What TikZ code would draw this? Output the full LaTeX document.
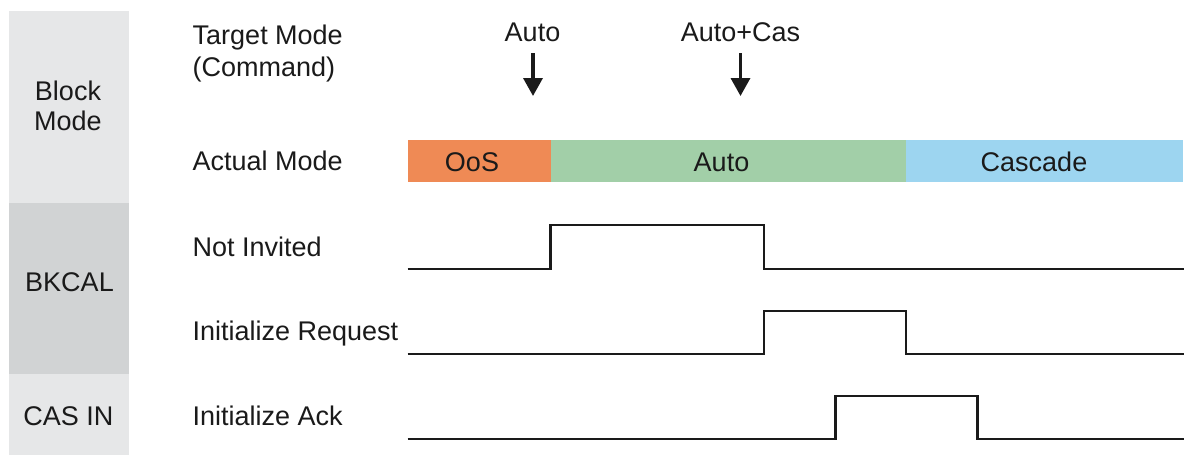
\documentclass[tikz,border=0pt]{standalone}
\usepackage{fontspec}
\setmainfont{Liberation Sans}
\usetikzlibrary{arrows.meta}
\definecolor{panellight}{HTML}{E6E7E8}
\definecolor{paneldark}{HTML}{D1D3D4}
\definecolor{oosfill}{HTML}{EF8A55}
\definecolor{autofill}{HTML}{A2CFA8}
\definecolor{casfill}{HTML}{9DD5F0}
\definecolor{ink}{HTML}{1A1A1A}
\begin{document}
\begin{tikzpicture}[x=1pt,y=-1pt,
    txt/.style={anchor=base,inner sep=0pt,text=ink,font=\fontsize{27}{30}\selectfont},
    lbl/.style={txt,anchor=base west},
    pnl/.style={txt,align=center},
    wave/.style={line width=2.6pt,ink,line join=miter},
    cmd/.style={line width=3.5pt,ink,-{Triangle[length=18pt,width=19pt]}}]
    \useasboundingbox (0,0) rectangle (1184,455);
    % left side panels
    \fill[panellight] (9,11) rectangle (129,203);
    \fill[paneldark] (9,203) rectangle (129,374);
    \fill[panellight] (9,374) rectangle (129,455);
    \node[pnl] (blockmode) at (68,130.7) {Block\\Mode};
    \node[pnl] (bkcal) at (69.5,291) {BKCAL};
    \node[pnl] (casin) at (68.5,425) {CAS IN};
    % signal names
    \node[lbl] (target) at (192.5,44) {Target Mode};
    \node[lbl] (command) at (192.5,76) {(Command)};
    \node[lbl] (actual) at (192.5,170) {Actual Mode};
    \node[lbl] (notinv) at (192.5,256.7) {Not Invited};
    \node[lbl] (initreq) at (192.5,340) {Initialize Request};
    \node[lbl] (initack) at (192.5,425) {Initialize Ack};
    % mode commands
    \node[txt] (autocmd) at (532.5,41.7) {Auto};
    \node[txt] (autocascmd) at (740.5,41.7) {Auto+Cas};
    \coordinate (autotail) at (533,53);
    \coordinate (autotip) at (533,96);
    \coordinate (autocastail) at (740.5,53);
    \coordinate (autocastip) at (740.5,96);
    \draw[cmd] (autotail) -- (autotip);
    \draw[cmd] (autocastail) -- (autocastip);
    % actual mode bar
    \fill[oosfill] (408,140) rectangle (550.5,182);
    \fill[autofill] (550.5,140) rectangle (906,182);
    \fill[casfill] (906,140) rectangle (1183,182);
    \node[txt] (oos) at (472,171.5) {OoS};
    \node[txt] (auto) at (721.5,171.5) {Auto};
    \node[txt] (cascade) at (1034,171) {Cascade};
    % timing lines
    \draw[wave] (407.5,269) -- (550.5,269) -- (550.5,225) -- (764,225) -- (764,269) -- (1184,269);
    \draw[wave] (407.5,354) -- (764,354) -- (764,311) -- (906,311) -- (906,354) -- (1184,354);
    \draw[wave] (407.5,439) -- (835.5,439) -- (835.5,396) -- (977.5,396) -- (977.5,439) -- (1184,439);
\end{tikzpicture}
\end{document}
